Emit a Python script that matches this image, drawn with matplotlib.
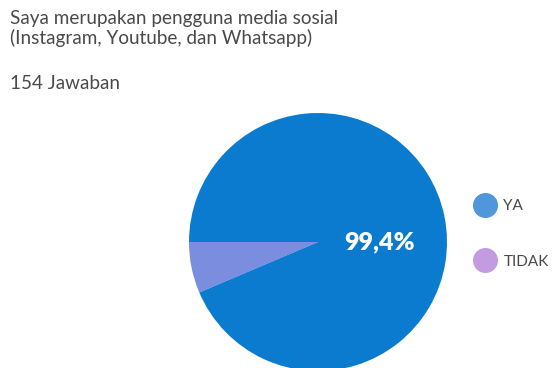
import matplotlib.pyplot as plt
from matplotlib.lines import Line2D

title = 'Saya merupakan pengguna media sosial\n(Instagram, Youtube, dan Whatsapp)'
subtitle = '154 Jawaban'
labels = ['YA', 'TIDAK']
counts = [153, 1]
slice_colors = ['#0A7BCF', '#7B8DDF']
legend_colors = ['#5096DA', '#C29BE0']

# tiny slices get a minimum visible share, like the original widget
min_share = 0.064
total = sum(counts)
shares = [c / total for c in counts]
drawn = [max(s, min_share) for s in shares]
drawn[0] = 1 - sum(drawn[1:])

W, H = 552, 368
fig = plt.figure(figsize=(W / 100, H / 100), dpi=100)
plt.rcParams['font.family'] = ['Lato', 'DejaVu Sans']

# pie centre and radius in pixels (top-based y)
cx, cy, r = 318, 242, 129
ax = fig.add_axes([(cx - r) / W, (H - cy - r) / H, 2 * r / W, 2 * r / H])
ax.pie(drawn[::-1], colors=slice_colors[::-1], startangle=180,
       counterclock=True, radius=1, wedgeprops=dict(linewidth=0))
ax.set_xlim(-1, 1)
ax.set_ylim(-1, 1)
ax.text(0.48, 0, f'{shares[0] * 100:.1f}%'.replace('.', ','), color='white',
        fontsize=18, fontweight='heavy', ha='center', va='center')

fig.text(10 / W, 1 - 10 / H, title, fontsize=13.6, color='#4a4a4a',
         va='top', ha='left', linespacing=1.15)
fig.text(10 / W, 1 - 75 / H, subtitle, fontsize=13.6, color='#4a4a4a',
         va='top', ha='left')

handles = [Line2D([], [], marker='o', linestyle='none', markersize=17,
                  markerfacecolor=c, markeredgecolor=c) for c in legend_colors]
leg = fig.legend(handles, labels, loc='center left',
                 bbox_to_anchor=(462 / W, 1 - 234 / H), frameon=False,
                 labelspacing=2.7, handletextpad=0.6, handlelength=1.2,
                 fontsize=11, labelcolor='#4a4a4a')

fig.savefig('out.png', dpi=100)
